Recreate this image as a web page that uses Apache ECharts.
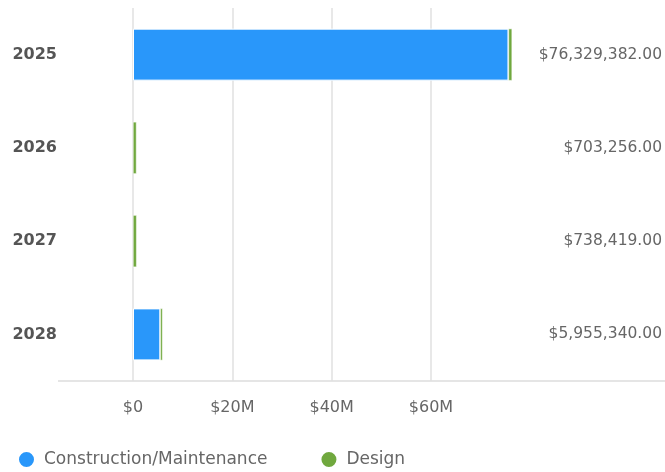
<!DOCTYPE html>
<html>
<head>
<meta charset="utf-8">
<script src="https://cdn.jsdelivr.net/npm/echarts@6/dist/echarts.min.js"></script>
<style>
  html, body { margin: 0; padding: 0; background: #fff; }
  #myChart { width: 665px; height: 472px; }
</style>
</head>
<body>
<div id="myChart"></div>
<script>
// years (top to bottom)
var categories = ["2025", "2026", "2027", "2028"];
// dollar amounts per type
var construction = [75600000, null, null, 5500000];
var design = [729382, 703256, 738419, 455340];
// x axis ticks
var xTicks = [0, 20000000, 40000000, 60000000];

var FONT = "DejaVu Sans";

var totals = categories.map(function (c, i) {
  return (construction[i] || 0) + (design[i] || 0);
});

function money(v) {
  return "$" + v.toLocaleString("en-US", { minimumFractionDigits: 2, maximumFractionDigits: 2 });
}

var chart = echarts.init(document.getElementById("myChart"));
chart.setOption({
  animation: false,
  textStyle: { fontFamily: FONT },
  grid: { left: 133, right: 233, top: 8, bottom: 91, containLabel: false },
  legend: {
    left: 12,
    top: 445,
    icon: "circle",
    itemWidth: 17,
    itemHeight: 17,
    itemGap: 52,
    textStyle: { fontFamily: FONT, fontSize: 17, color: "#666", padding: [0, 0, 0, 4] },
    data: ["Construction/Maintenance", "Design"]
  },
  xAxis: {
    type: "value",
    min: 0,
    max: xTicks[xTicks.length - 1],
    interval: 20000000,
    axisLine: { show: false },
    axisTick: { show: false },
    splitLine: { lineStyle: { color: "#e0e0e0", width: 1.5 } },
    axisLabel: {
      margin: 19,
      fontSize: 16,
      color: "#666",
      formatter: function (v) {
        return v === 0 ? "$0" : "$" + v / 1000000 + "M";
      }
    }
  },
  yAxis: [
    {
      type: "category",
      inverse: true,
      data: categories,
      axisLine: { show: false },
      axisTick: { show: false },
      axisLabel: { margin: 76, fontSize: 16, fontWeight: "bold", color: "#555" }
    },
    {
      type: "category",
      inverse: true,
      position: "right",
      data: totals.map(money),
      axisLine: { show: false },
      axisTick: { show: false },
      axisLabel: { margin: 231, align: "right", fontSize: 15.5, color: "#666" }
    }
  ],
  graphic: [
    {
      type: "line",
      shape: { x1: 58, y1: 381, x2: 665, y2: 381 },
      style: { stroke: "#dcdcdc", lineWidth: 1.5 },
      z: 0
    }
  ],
  series: [
    {
      name: "Construction/Maintenance",
      type: "bar",
      stack: "total",
      clip: false,
      barWidth: 52,
      itemStyle: { color: "#2997fa", borderColor: "#fff", borderWidth: 1 },
      data: construction
    },
    {
      name: "Design",
      type: "bar",
      stack: "total",
      clip: false,
      barWidth: 52,
      itemStyle: { color: "#70a83e", borderColor: "#fff", borderWidth: 0.5 },
      data: design
    }
  ]
});
</script>
</body>
</html>
